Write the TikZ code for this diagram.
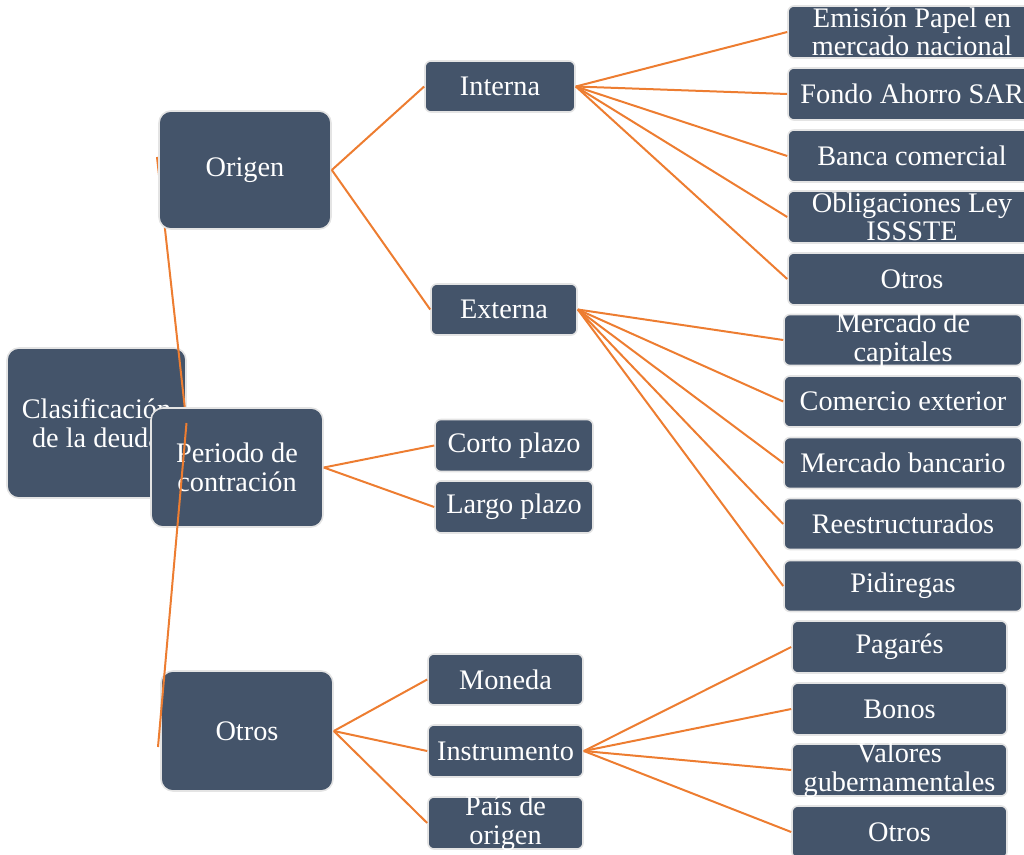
\documentclass[tikz,border=0pt]{standalone}
\usepackage{fontspec}
\setmainfont{Liberation Serif}
\definecolor{boxfill}{HTML}{44546A}
\definecolor{boxline}{HTML}{E4E4E4}
\definecolor{conn}{HTML}{ED7D31}
\begin{document}
\begin{tikzpicture}[x=1pt,y=-1pt,
  box/.style 2 args={draw=boxline, line width=1.6pt, fill=boxfill, rounded corners=6pt,
    minimum width=#1pt, minimum height=#2pt, inner sep=0pt},
  bigbox/.style 2 args={box={#1}{#2}, rounded corners=12pt},
  txt/.style={text=white, font=\fontsize{28.3}{28.5}\selectfont, align=center, inner sep=0pt},
  link/.style={draw=conn, line width=2pt}
]
\useasboundingbox (0,0) rectangle (1024,854);

% root
\node[bigbox={179}{150}] (root) at (96.5,423) {};
\node[txt] (root-t) at (root) {Clasificación\\de la deuda};
\coordinate (o-in) at (157,157);
\coordinate (p-in) at (152,467);
\coordinate (r-out) at (186.5,423);
\draw[link] (r-out) -- (o-in);
\draw[link] (r-out) -- (p-in);

% level 1
\node[bigbox={172}{118}] (origen) at (245,170) {};
\node[txt] (origen-t) at (origen) {Origen};
\node[bigbox={172}{119}] (periodo) at (237,467.5) {};
\node[txt] (periodo-t) at (periodo) {Periodo de\\contración};
\node[bigbox={172}{120}] (otros1) at (247,731) {};
\node[txt] (otros1-t) at (otros1) {Otros};

% level 2
\node[box={150}{51}] (interna) at (500,86.5) {};
\node[txt] (interna-t) at (interna) {Interna};
\node[box={146}{51}] (externa) at (504,309.5) {};
\node[txt] (externa-t) at (externa) {Externa};
\node[box={158}{52}] (corto) at (514,445.5) {};
\node[txt] (corto-t) at (corto) {Corto plazo};
\node[box={158}{52}] (largo) at (514,507) {};
\node[txt] (largo-t) at (largo) {Largo plazo};
\node[box={155}{51}] (moneda) at (505.5,679.5) {};
\node[txt] (moneda-t) at (moneda) {Moneda};
\node[box={155}{52}] (instr) at (505.5,751) {};
\node[txt] (instr-t) at (instr) {Instrumento};
\node[box={155}{52}] (pais) at (505.5,823) {};
\node[txt] (pais-t) at (pais) {País de\\origen};

% level 3 - Interna
\node[box={248}{52}] (i1) at (912,32) {};
\node[txt] (i1-t) at (i1) {Emisión Papel en\\mercado nacional};
\node[box={248}{52}] (i2) at (912,94) {};
\node[txt] (i2-t) at (i2) {Fondo Ahorro SAR};
\node[box={248}{52}] (i3) at (912,156) {};
\node[txt] (i3-t) at (i3) {Banca comercial};
\node[box={248}{52}] (i4) at (912,217) {};
\node[txt] (i4-t) at (i4) {Obligaciones Ley\\ISSSTE};
\node[box={248}{52}] (i5) at (912,279) {};
\node[txt] (i5-t) at (i5) {Otros};

% level 3 - Externa
\node[box={238}{51}] (e1) at (903,340) {};
\node[txt] (e1-t) at (e1) {Mercado de\\capitales};
\node[box={238}{51}] (e2) at (903,401.5) {};
\node[txt] (e2-t) at (e2) {Comercio exterior};
\node[box={238}{51}] (e3) at (903,463) {};
\node[txt] (e3-t) at (e3) {Mercado bancario};
\node[box={238}{51}] (e4) at (903,524) {};
\node[txt] (e4-t) at (e4) {Reestructurados};
\node[box={238}{51}] (e5) at (903,586) {};
\node[txt] (e5-t) at (e5) {Pidiregas};

% level 3 - Instrumento
\node[box={215}{52}] (n1) at (899.5,647) {};
\node[txt] (n1-t) at (n1) {Pagarés};
\node[box={215}{52}] (n2) at (899.5,709) {};
\node[txt] (n2-t) at (n2) {Bonos};
\node[box={215}{52}] (n3) at (899.5,770) {};
\node[txt] (n3-t) at (n3) {Valores\\gubernamentales};
\node[box={215}{52}] (n4) at (899.5,832) {};
\node[txt] (n4-t) at (n4) {Otros};

% connectors
\foreach \c in {interna,externa} \draw[link] (origen.east) -- (\c.west);
\foreach \c in {corto,largo} \draw[link] (periodo.east) -- (\c.west);
\foreach \c in {moneda,instr,pais} \draw[link] (otros1.east) -- (\c.west);
\foreach \c in {i1,i2,i3,i4,i5} \draw[link] (interna.east) -- (\c.west);
\foreach \c in {e1,e2,e3,e4,e5} \draw[link] (externa.east) -- (\c.west);
\foreach \c in {n1,n2,n3,n4} \draw[link] (instr.east) -- (\c.west);

% root to Otros, drawn on top
\coordinate (t-in) at (158,747);
\draw[link] (r-out) -- (t-in);
\end{tikzpicture}
\end{document}
